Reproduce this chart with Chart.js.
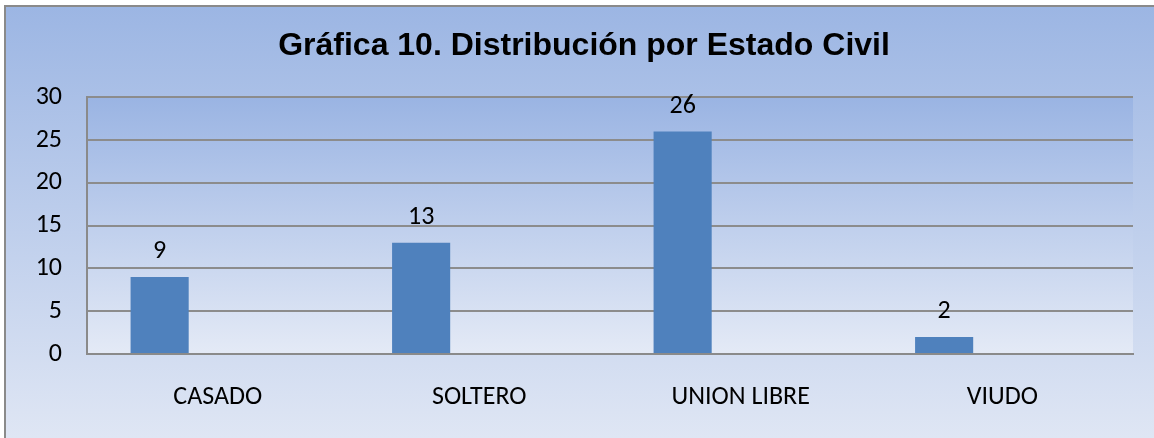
<!DOCTYPE html>
<html>
<head>
<meta charset="utf-8">
<script src="https://cdn.jsdelivr.net/npm/chart.js@4.4.0/dist/chart.umd.min.js"></script>
<style>
  body { margin: 0; background: #ffffff; }
  #wrap { width: 1154px; height: 438px; position: relative; }
</style>
</head>
<body>
<div id="wrap"><canvas id="grafica"></canvas></div>
<script>
// Datos de la gráfica
const categorias = ['CASADO', 'SOLTERO', 'UNION LIBRE', 'VIUDO'];
const valores = [9, 13, 26, 2];
const vacios = [null, null, null, null]; // series sin datos (ocupan sitio en el grupo)
const tituloTexto = 'Gráfica 10. Distribución por Estado Civil';

const fuente = "Carlito, Lato, 'Open Sans', sans-serif";

// Fondo con degradado y marco
const fondoPlugin = {
  id: 'fondo',
  beforeDraw(chart) {
    const ctx = chart.ctx;
    const w = chart.width, h = chart.height;
    ctx.save();
    let g = ctx.createLinearGradient(0, 0, 0, h);
    g.addColorStop(0, '#9bb5e3');
    g.addColorStop(1, '#dfe6f4');
    ctx.fillStyle = g;
    ctx.fillRect(5, 6, w - 5, h - 6);

    const a = chart.chartArea;
    g = ctx.createLinearGradient(0, a.top, 0, a.bottom);
    g.addColorStop(0, '#9ab4e3');
    g.addColorStop(1, '#e4eaf6');
    ctx.fillStyle = g;
    ctx.fillRect(a.left, a.top, a.right - a.left, a.bottom - a.top);

    ctx.strokeStyle = '#8a8a8a';
    ctx.lineWidth = 2;
    ctx.beginPath();
    ctx.moveTo(5, h);
    ctx.lineTo(5, 6);
    ctx.lineTo(w, 6);
    ctx.stroke();
    ctx.restore();
  }
};

// Etiquetas de valor encima de las barras
const etiquetasPlugin = {
  id: 'etiquetas',
  afterDatasetsDraw(chart) {
    const ctx = chart.ctx;
    const meta = chart.getDatasetMeta(0);
    ctx.save();
    ctx.font = '26px ' + fuente;
    ctx.fillStyle = '#000000';
    ctx.textAlign = 'center';
    ctx.textBaseline = 'alphabetic';
    meta.data.forEach((bar, i) => {
      if (valores[i] == null) return;
      ctx.fillText(String(valores[i]), bar.x, bar.y - 19);
    });
    ctx.restore();
  }
};

const ctx = document.getElementById('grafica').getContext('2d');
const grafica = new Chart(ctx, {
  type: 'bar',
  data: {
    labels: categorias,
    datasets: [
      { label: 'Serie 1', data: valores, backgroundColor: '#4f81bd' },
      { label: 'Serie 2', data: vacios, backgroundColor: '#c0504d' },
      { label: 'Serie 3', data: vacios, backgroundColor: '#9bbb59' }
    ]
  },
  options: {
    responsive: true,
    maintainAspectRatio: false,
    animation: false,
    layout: { padding: { left: 35, right: 21, top: 0, bottom: 0 } },
    datasets: {
      bar: { categoryPercentage: 0.6667, barPercentage: 1.0 }
    },
    scales: {
      x: {
        grid: { display: false, drawTicks: false },
        border: { display: true, color: '#8a8a8a', width: 2 },
        ticks: {
          color: '#000000',
          font: { family: fuente, size: 26 },
          padding: 28,
          maxRotation: 0
        },
        afterFit(scale) { scale.height = 84; }
      },
      y: {
        min: 0,
        max: 30,
        grid: { color: '#8c8c8c', lineWidth: 2, drawTicks: false },
        border: { display: true, color: '#8a8a8a', width: 2 },
        ticks: {
          stepSize: 5,
          color: '#000000',
          font: { family: fuente, size: 26 },
          padding: 25
        },
        afterFit(scale) { scale.width = 52; }
      }
    },
    plugins: {
      legend: { display: false },
      tooltip: { enabled: false },
      title: {
        display: true,
        text: tituloTexto,
        color: '#000000',
        font: { family: "'Liberation Sans', Arial, sans-serif", size: 32, weight: 'bold' },
        padding: { top: 27, bottom: 32 }
      }
    }
  },
  plugins: [fondoPlugin, etiquetasPlugin]
});
</script>
</body>
</html>
